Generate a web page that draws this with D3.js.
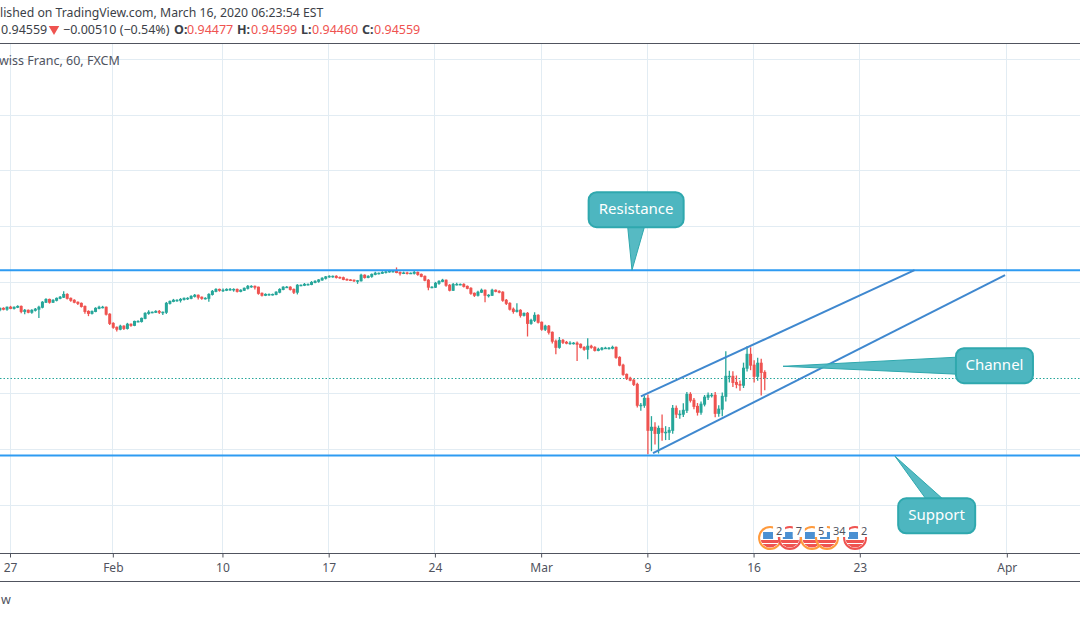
<!DOCTYPE html>
<html>
<head>
<meta charset="utf-8">
<title>USD/CHF 60</title>
<script src="https://cdnjs.cloudflare.com/ajax/libs/d3/7.8.5/d3.min.js"></script>
<style>
    html, body { margin: 0; padding: 0; background: #fff; overflow: hidden; }
    text { font-family: "Noto Sans", "Open Sans", sans-serif; }
</style>
</head>
<body>
<div id="chart"></div>
<script>
// x axis is counted in trading days from Jan 27, bars are 4 hours apart
var tickDays = [0, 4.84, 10, 15, 20, 25, 30, 35, 40, 46.92];
var tickLabels = ["27", "Feb", "10", "17", "24", "Mar", "9", "16", "23", "Apr"];
var gridPrices = [0.90, 0.92, 0.94, 0.96, 0.98, 1.00, 1.02, 1.04, 1.06];

var firstBarDay = -0.45;
var firstOpen = 0.9700;

var closes = [
    .9705,.9702,.9709,.9705,.9709,.9712,.9694,.9698,.9691,.9698,
    .9702,.9709,.9727,.9737,.9727,.9734,.9741,.9745,.9755,.9741,
    .9734,.9727,.9723,.9712,.9694,.9687,.9694,.9705,.9709,.9709,
    .9684,.9651,.9637,.9630,.9641,.9633,.9648,.9644,.9658,.9658,
    .9669,.9687,.9691,.9691,.9694,.9691,.9691,.9723,.9730,.9734,
    .9734,.9737,.9741,.9741,.9748,.9752,.9745,.9741,.9741,.9755,
    .9766,.9773,.9770,.9770,.9773,.9773,.9773,.9766,.9770,.9777,
    .9784,.9784,.9781,.9759,.9752,.9755,.9755,.9755,.9763,.9773,
    .9781,.9781,.9773,.9763,.9788,.9788,.9791,.9791,.9798,.9802,
    .9807,.9813,.9818,.9820,.9820,.9816,.9815,.9809,.9807,.9806,
    .9804,.9804,.9824,.9816,.9820,.9827,.9831,.9831,.9834,.9836,
    .9838,.9838,.9834,.9831,.9832,.9831,.9831,.9834,.9827,.9820,
    .9806,.9781,.9781,.9795,.9802,.9806,.9788,.9770,.9791,.9791,
    .9791,.9784,.9777,.9759,.9752,.9763,.9770,.9752,.9752,.9770,
    .9766,.9763,.9734,.9723,.9702,.9694,.9698,.9680,.9687,.9651,
    .9662,.9680,.9655,.9630,.9641,.9619,.9587,.9565,.9590,.9583,
    .9580,.9580,.9580,.9576,.9565,.9558,.9569,.9565,.9554,.9558,
    .9562,.9562,.9562,.9565,.9529,.9501,.9468,.9454,.9447,.9432,
    .9357,.9357,.9382,.9267,.9278,.9256,.9274,.9260,.9260,.9267,
    .9346,.9325,.9325,.9339,.9396,.9375,.9353,.9332,.9361,.9386,
    .9393,.9393,.9328,.9343,.9389,.9461,.9461,.9439,.9432,.9429,
    .9490,.9540,.9501,.9461,.9508,.9475,.9456
];

// wick lengths in pips above / below the candle body
var upperWicks = [
    3,4,3,5,3,4,3,5,3,4, 4,5,4,4,3,4,3,4,11,4, 3,4,3,3,3,4,3,4,5,5,
    3,3,4,3,5,3,5,3,3,4, 3,4,7,3,4,5,3,5,3,5, 4,5,3,4,4,5,3,3,4,4,
    5,4,3,6,4,5,4,3,4,3, 5,4,3,2,3,4,3,3,3,4, 3,4,3,3,4,3,5,3,5,4,
    3,4,3,4,3,4,3,4,3,3, 3,3,5,3,4,3,5,3,4,4, 5,4,14,3,5,4,3,5,3,3,
    3,4,3,5,4,5,3,4,5,6, 3,4,3,4,3,5,6,3,4,5, 3,4,3,5,4,6,25,4,3,5,
    6,11,4,3,5,4,3,6,12,5, 5,7,4,6,3,4,29,5,4,6, 4,5,4,6,3,4,5,3,5,4,
    6,8,9,14,40,18,10,50,22,12, 12,10,14,25,9,8,8,12,10,8,
    10,8,12,14,14,90,20,18,25,14, 20,29,25,18,20,16,8
];
var lowerWicks = [
    5,4,6,3,4,3,7,10,4,5, 4,32,4,3,5,3,4,3,3,4, 5,4,6,4,8,10,4,3,3,4,
    5,6,5,8,4,6,4,5,3,3, 4,3,5,4,3,6,10,6,4,3, 5,8,4,6,3,4,8,5,4,12,
    4,3,5,6,3,5,8,4,3,3, 4,5,8,5,4,3,5,4,3,4, 3,3,4,6,8,4,3,4,3,3,
    5,3,4,3,5,4,4,3,3,3, 4,11,3,4,3,5,3,4,3,4, 3,4,3,8,3,4,3,4,5,3,
    4,11,4,3,5,3,5,4,3,4, 3,4,3,5,6,4,3,25,8,3, 3,4,5,6,5,8,4,8,4,47,
    5,6,4,5,6,8,8,25,5,6, 4,6,5,60,4,5,36,5,4,3, 4,3,5,4,5,4,5,6,4,6,
    8,20,9,86,75,40,72,30,28,28, 12,14,16,10,10,8,10,12,9,8,
    10,8,14,12,25,18,22,16,14,20, 10,12,18,22,16,83,45
];

var lastPrice = 0.94559;
var resistancePrice = 0.9842;
var supportPrice = 0.9177;
var channelUpper = [[29.72, 0.9389], [42.6, 0.9842]];
var channelLower = [[30.29, 0.9185], [46.86, 0.9824]];

var eventDays = [35.8, 36.73, 37.77, 38.48, 39.8];
var eventLabels = ["2", "7", "5", "34", "2"];
var eventRings = ["#ff9a3c", "#ef5350", "#ff9a3c", "#ff9a3c", "#ef5350"];

var width = 1080,
    height = 618;

var up = "#26a69a",
    down = "#ef5350",
    gridColor = "#e2ecf3",
    axisColor = "#50535e",
    calloutFill = "#4db6c0",
    calloutStroke = "#2fa8ae";

var x = d3.scaleLinear().domain([0, 40]).range([9.5, 859.3]);
var y = d3.scaleLinear().domain([0.92, 0.94]).range([449, 393.3]);

var svg = d3.select("#chart").append("svg")
    .attr("width", width)
    .attr("height", height)
    .style("display", "block");

// grid
svg.append("g").selectAll("line")
    .data(gridPrices)
    .enter().append("line")
    .attr("x1", 0)
    .attr("x2", width)
    .attr("y1", function (d) { return Math.round(y(d)) + 0.5; })
    .attr("y2", function (d) { return Math.round(y(d)) + 0.5; })
    .attr("stroke", gridColor);

svg.append("g").selectAll("line")
    .data(tickDays)
    .enter().append("line")
    .attr("x1", function (d) { return Math.round(x(d)) + 0.5; })
    .attr("x2", function (d) { return Math.round(x(d)) + 0.5; })
    .attr("y1", 44)
    .attr("y2", 553)
    .attr("stroke", gridColor);

// frame
[43.5, 553.5, 581.5].forEach(function (ly) {
    svg.append("line")
        .attr("x1", 0).attr("x2", width)
        .attr("y1", ly).attr("y2", ly)
        .attr("stroke", axisColor);
});

var axis = d3.axisBottom(x)
    .tickValues(tickDays)
    .tickFormat(function (d, i) { return tickLabels[i]; })
    .tickSize(4)
    .tickPadding(6);

var axisG = svg.append("g")
    .attr("transform", "translate(0.5,553.5)")
    .call(axis);
axisG.select(".domain").remove();
axisG.selectAll("line").attr("stroke", axisColor);
axisG.selectAll("text")
    .attr("fill", axisColor)
    .style("font-size", "12px")
    .style("font-family", "\"Noto Sans\", sans-serif");

// last price
svg.append("line")
    .attr("x1", 0)
    .attr("x2", width)
    .attr("y1", Math.round(y(lastPrice)) + 0.5)
    .attr("y2", Math.round(y(lastPrice)) + 0.5)
    .attr("stroke", up)
    .attr("stroke-dasharray", "1.5,2");

// candles
var candles = closes.map(function (c, i) {
    var o = i ? closes[i - 1] : firstOpen;
    return {
        day: firstBarDay + i / 6,
        open: o,
        close: c,
        high: Math.max(o, c) + upperWicks[i] / 10000,
        low: Math.min(o, c) - lowerWicks[i] / 10000
    };
});

var candle = svg.append("g").selectAll("g")
    .data(candles)
    .enter().append("g")
    .attr("fill", function (d) { return d.close >= d.open ? up : down; })
    .attr("stroke", function (d) { return d.close >= d.open ? up : down; });

candle.append("line")
    .attr("x1", function (d) { return x(d.day); })
    .attr("x2", function (d) { return x(d.day); })
    .attr("y1", function (d) { return y(d.high); })
    .attr("y2", function (d) { return y(d.low); })
    .attr("stroke-width", 1.3);

candle.append("rect")
    .attr("x", function (d) { return x(d.day) - 1.5; })
    .attr("width", 3)
    .attr("y", function (d) { return Math.min(y(d.open), y(d.close)) - 0.5; })
    .attr("height", function (d) { return Math.max(1.5, Math.abs(y(d.open) - y(d.close)) + 1); })
    .attr("stroke", "none");

// drawings
[supportPrice, resistancePrice].forEach(function (p) {
    svg.append("line")
        .attr("x1", 0)
        .attr("x2", width)
        .attr("y1", y(p))
        .attr("y2", y(p))
        .attr("stroke", "#2e9bf2")
        .attr("stroke-width", 2);
});

var channelLine = d3.line()
    .x(function (d) { return x(d[0]); })
    .y(function (d) { return y(d[1]); });

[channelUpper, channelLower].forEach(function (c) {
    svg.append("path")
        .attr("d", channelLine(c))
        .attr("fill", "none")
        .attr("stroke", "#3f88cf")
        .attr("stroke-width", 2);
});

// callout: box anchored at day/price, pointer base given relative to the box
function callout(label, left, top, w, h, base, tip) {
    var bx = x(left),
        by = y(top);
    var g = svg.append("g");
    g.append("path")
        .attr("d", "M" + (bx + base[0][0]) + "," + (by + base[0][1]) +
            "L" + x(tip[0]) + "," + y(tip[1]) +
            "L" + (bx + base[1][0]) + "," + (by + base[1][1]) + "Z")
        .attr("fill", calloutFill)
        .attr("fill-opacity", 0.95)
        .attr("stroke", calloutStroke);
    g.append("rect")
        .attr("x", bx)
        .attr("y", by)
        .attr("width", w)
        .attr("height", h)
        .attr("rx", 8)
        .attr("fill", calloutFill)
        .attr("stroke", calloutStroke)
        .attr("stroke-width", 2);
    g.append("text")
        .attr("x", bx + w / 2)
        .attr("y", by + h / 2 + 4)
        .attr("text-anchor", "middle")
        .attr("fill", "#fff")
        .style("font-size", "15px")
        .text(label);
}

callout("Resistance", 27.26, 1.0122, 95, 35, [[39, 34], [56, 34]], [29.3, 0.9842]);
callout("Channel", 44.55, 0.9562, 77, 35, [[1, 9], [1, 26]], [36.41, 0.9497]);
callout("Support", 41.83, 0.9023, 77, 35, [[28, 1], [45, 1]], [41.68, 0.9174]);

// economic events
var defs = svg.append("defs");
defs.append("clipPath").attr("id", "flag-clip")
    .append("circle").attr("r", 9.5);

var events = svg.append("g").selectAll("g")
    .data(eventDays)
    .enter().append("g")
    .attr("transform", function (d) { return "translate(" + x(d) + ",538)"; });

var flag = events.append("g").attr("clip-path", "url(#flag-clip)");
flag.append("rect").attr("x", -10).attr("y", -10).attr("width", 20).attr("height", 20).attr("fill", "#fff");
flag.append("rect").attr("x", -10).attr("y", 2).attr("width", 20).attr("height", 3).attr("fill", "#ef5350");
flag.append("rect").attr("x", -10).attr("y", 6).attr("width", 20).attr("height", 5).attr("fill", "#ef5350");
flag.append("rect").attr("x", -7).attr("y", -6).attr("width", 10).attr("height", 7).attr("fill", "#4a90d2");

events.append("circle")
    .attr("r", 11)
    .attr("fill", "none")
    .attr("stroke", function (d, i) { return eventRings[i]; })
    .attr("stroke-width", 2);

var eventTags = svg.append("g").selectAll("g")
    .data(eventDays)
    .enter().append("g")
    .attr("transform", function (d) { return "translate(" + x(d) + ",538)"; });

eventTags.append("rect")
    .attr("x", 3)
    .attr("y", -13)
    .attr("width", function (d, i) { return eventLabels[i].length * 7 + 5; })
    .attr("height", 12)
    .attr("fill", "#fff");

eventTags.append("text")
    .attr("x", 6)
    .attr("y", -3)
    .attr("fill", axisColor)
    .style("font-size", "11px")
    .text(function (d, i) { return eventLabels[i]; });

// header texts, the snapshot starts mid word on the left
function label(tx, ty, str, color, weight, size) {
    svg.append("text")
        .attr("x", tx)
        .attr("y", ty)
        .attr("fill", color)
        .style("font-size", (size || 12.5) + "px")
        .style("font-weight", weight || "normal")
        .text(str);
}

label(0, 17, "lished on TradingView.com, March 16, 2020 06:23:54 EST", "#3c3f48", "normal", 12.25);
label(1, 34, "0.94559", "#3c3f48");
svg.append("path")
    .attr("d", d3.symbol().type(d3.symbolTriangle).size(48)())
    .attr("transform", "translate(54,29) rotate(180)")
    .attr("fill", down);
label(63, 34, "\u22120.00510 (\u22120.54%)", "#3c3f48");
label(174, 34, "O:", "#3c3f48", "bold");
label(187, 34, "0.94477", down);
label(237, 34, "H:", "#3c3f48", "bold");
label(251, 34, "0.94599", down);
label(301, 34, "L:", "#3c3f48", "bold");
label(312, 34, "0.94460", down);
label(362, 34, "C:", "#3c3f48", "bold");
label(374, 34, "0.94559", down);
label(-1, 65, "wiss Franc, 60, FXCM", axisColor);
label(1, 604, "w", axisColor);
</script>
</body>
</html>
